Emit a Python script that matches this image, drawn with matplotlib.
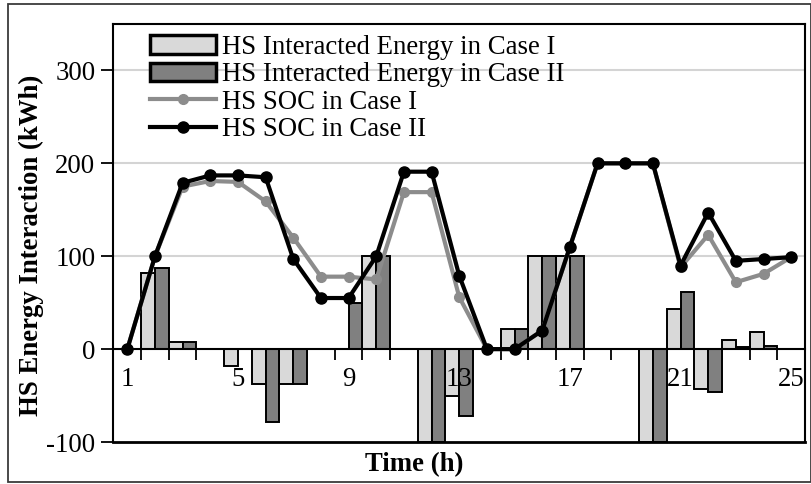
import matplotlib
matplotlib.use("Agg")
import matplotlib.pyplot as plt
from matplotlib.patches import Rectangle
import numpy as np

hours = list(range(1, 26))
energy_case1 = [0, 82, 8, 0, -18, -38, -38, 0, 0, 100, 0, -100, -51, 0, 22,
                100, 100, 0, 0, -100, 43, -43, 10, 18, 0]
energy_case2 = [0, 87, 8, 0, 0, -79, -38, 0, 50, 100, 0, -100, -72, 0, 22,
                100, 100, 0, 0, -100, 62, -46, 2, 3, 0]
soc_case1 = [0, 100, 175, 181, 180, 159, 120, 78, 78, 75, 169, 169, 56, 0, 0,
             20, 110, 200, 200, 200, 88, 123, 72, 81, 99]
soc_case2 = [0, 100, 179, 187, 187, 185, 97, 55, 55, 100, 191, 191, 79, 0, 0,
             20, 110, 200, 200, 200, 90, 147, 95, 97, 99]
xtick_labels = ["1", "5", "9", "13", "17", "21", "25"]
yticks = [-100, 0, 100, 200, 300]

plt.rcParams['font.family'] = ['Liberation Serif', 'DejaVu Serif']
FS = 19.3

W, H = 812, 484
fig = plt.figure(figsize=(W / 100, H / 100), dpi=100)
L, R, T, B = 113.5, 805, 24, 442
ax = fig.add_axes([L / W, 1 - B / H, (R - L) / W, (B - T) / H])

light = '#d9d9d9'
dark = '#808080'
x = np.array(hours)
b1 = ax.bar(x, energy_case1, width=-0.5, align='edge', color=light,
            edgecolor='black', linewidth=1.4, zorder=3, label='HS Interacted Energy in Case I')
b2 = ax.bar(x, energy_case2, width=0.5, align='edge', color=dark,
            edgecolor='black', linewidth=1.4, zorder=3, label='HS Interacted Energy in Case II')
l1, = ax.plot(x, soc_case1, color='#8c8c8c', lw=3, marker='o', ms=7, zorder=5,
              label='HS SOC in Case I')
l2, = ax.plot(x, soc_case2, color='black', lw=3, marker='o', ms=8, zorder=6,
              label='HS SOC in Case II')

ax.set_xlim(0.5, 25.5)
ax.set_ylim(-100, 350)

# gridlines
for g in [100, 200, 300]:
    ax.axhline(g, color='#d4d4d4', lw=1.5, zorder=1)

# x-axis at zero
ax.spines['bottom'].set_position(('data', 0))
ax.spines['bottom'].set_linewidth(1.5)
ax.spines['bottom'].set_zorder(4)
ax.set_xticks(np.arange(0.5, 26, 1))
ax.set_xticklabels([])
ax.tick_params(axis='x', which='major', direction='out', length=8, width=1.3)
for lab in xtick_labels:
    ax.text(int(lab), -33, lab, fontsize=FS, ha='center', va='center',
            transform=ax.transData, zorder=8)

ax.set_yticks(yticks)
ax.set_yticklabels([str(v) for v in yticks], fontsize=FS)
ax.tick_params(axis='y', direction='out', length=9, width=1.3, pad=4)

for s in ['left', 'top', 'right']:
    ax.spines[s].set_linewidth(1.5)
ax.axhline(-100, color='black', lw=2, clip_on=False, zorder=7)

ax.set_ylabel('HS Energy Interaction (kWh)', fontsize=FS, fontweight='bold', va='center')
ax.yaxis.set_label_coords((31 - L) / (R - L), (B - 245) / (B - T))
ax.set_xlabel('Time (h)', fontsize=FS, fontweight='bold', va='center')
ax.xaxis.set_label_coords((414 - L) / (R - L), (B - 465) / (B - T))

leg = ax.legend(handles=[b1, b2, l1, l2], loc='upper left',
                bbox_to_anchor=((150 - L) / (R - L), (B - 35) / (B - T)),
                frameon=False, fontsize=FS, borderpad=0, borderaxespad=0,
                handlelength=2.45, handletextpad=0.25, labelspacing=0.09,
                handleheight=0.7)
for h in leg.legend_handles[:2]:
    h.set_linewidth(2.5)

# outer border
fig.patches.append(Rectangle((8 / W, 1 - 482 / H), (811 - 8) / W, (482 - 4) / H,
                             transform=fig.transFigure, fill=False,
                             edgecolor='#3a3a3a', lw=1.3))

fig.savefig('out.png', dpi=100)
